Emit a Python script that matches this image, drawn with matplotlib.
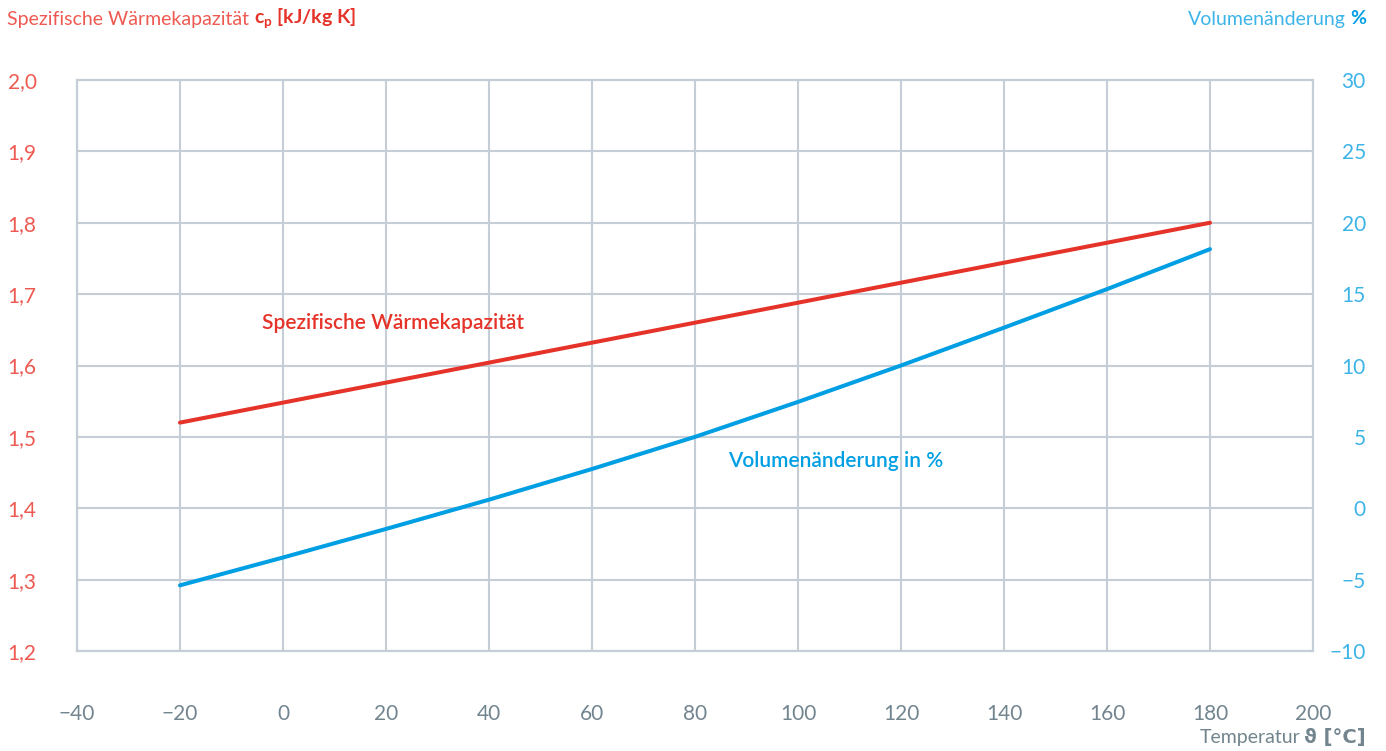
import matplotlib.pyplot as plt

# Daten
temp_ticks = [-40, -20, 0, 20, 40, 60, 80, 100, 120, 140, 160, 180, 200]
cp_ticks = [1.2, 1.3, 1.4, 1.5, 1.6, 1.7, 1.8, 1.9, 2.0]
vol_ticks = [-10, -5, 0, 5, 10, 15, 20, 25, 30]

cp_temp = [-20, 80, 180]
cp_values = [1.52, 1.66, 1.80]

vol_temp = [-20, 0, 20, 40, 60, 80, 100, 120, 140, 160, 180]
vol_values = [-5.4, -3.45, -1.45, 0.6, 2.75, 5.0, 7.45, 10.0, 12.65, 15.35, 18.15]

# Farben
red = "#e63329"
red_light = "#ee5a52"
blue = "#009fe3"
blue_light = "#3db4e8"
gray = "#72858f"
grid = "#c5ced6"

plt.rcParams["font.family"] = ["Lato", "DejaVu Sans"]

fig = plt.figure(figsize=(13.86, 7.51), dpi=100)
ax = fig.add_axes([77 / 1386, 1 - 651 / 751, (1313 - 77) / 1386, (651 - 80) / 751])
ax2 = ax.twinx()

ax.plot(cp_temp, cp_values, color=red, lw=2.9, solid_capstyle="round", zorder=3)
ax2.plot(vol_temp, vol_values, color=blue, lw=2.9, solid_capstyle="round", zorder=3)

ax.set_xlim(-40, 200)
ax.set_ylim(1.2, 2.0)
ax2.set_ylim(-10, 30)
ax.set_xticks(temp_ticks)
ax.set_xticklabels([str(t).replace("-", "\u2212") for t in temp_ticks])
ax.set_yticks(cp_ticks)
ax.set_yticklabels([f"{v:.1f}".replace(".", ",") for v in cp_ticks])
ax2.set_yticks(vol_ticks)
ax2.set_yticklabels([str(v).replace("-", "\u2212") for v in vol_ticks])

ax.grid(True, color=grid, lw=1.5)
ax.set_axisbelow(True)
for a in (ax, ax2):
    for s in a.spines.values():
        s.set_color(grid)
        s.set_linewidth(1.5)

ax.tick_params(axis="x", length=0, pad=38, labelsize=15, labelcolor=gray)
ax.tick_params(axis="y", length=0, pad=50, labelsize=15, labelcolor=red_light)
for lab in ax.get_yticklabels():
    lab.set_horizontalalignment("left")
ax2.tick_params(axis="y", length=0, pad=38, labelsize=15, labelcolor=blue_light)
for lab in ax2.get_yticklabels():
    lab.set_horizontalalignment("right")

# Achsentitel
t1 = fig.text(7 / 1386, 1 - 19 / 751, "Spezifische Wärmekapazität ",
              color=red_light, fontsize=14, va="center", ha="left")
fig.canvas.draw()
bb = t1.get_window_extent()
fig.text(bb.x1 / 1386, 1 - 19 / 751, r"c$_\mathregular{p}$ [kJ/kg K]",
         color=red, fontsize=14, fontweight="bold", va="center", ha="left")

t2 = fig.text(1366 / 1386, 1 - 19 / 751, "%", color=blue, fontsize=14,
              fontweight="bold", va="center", ha="right")
fig.canvas.draw()
bb = t2.get_window_extent()
fig.text((bb.x0 - 4) / 1386, 1 - 19 / 751, "Volumenänderung",
         color=blue_light, fontsize=14, va="center", ha="right")

t3 = fig.text(1366 / 1386, 1 - 737 / 751, "\u03d1 [°C]", color=gray, fontsize=14,
              fontweight="bold", va="center", ha="right",
              family=["DejaVu Sans", "Lato"])
fig.canvas.draw()
bb = t3.get_window_extent()
fig.text((bb.x0 - 4) / 1386, 1 - 737 / 751, "Temperatur",
         color=gray, fontsize=14, va="center", ha="right")

# Beschriftungen der Kurven
ax.text(-4.1, 1.66, "Spezifische Wärmekapazität", color=red, fontsize=15,
        fontweight="semibold", va="center", ha="left")
ax.text(86.4, 1.466, "Volumenänderung in %", color=blue, fontsize=15,
        fontweight="semibold", va="center", ha="left")

plt.savefig("out.png", dpi=100)
